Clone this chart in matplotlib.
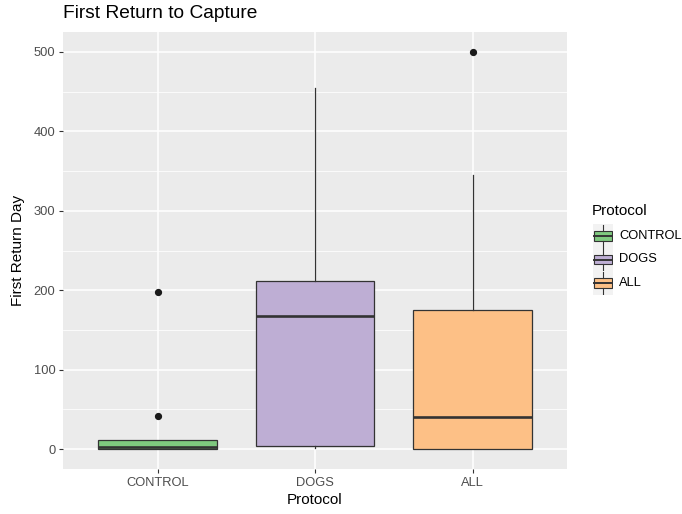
import matplotlib
matplotlib.use("Agg")
import matplotlib.pyplot as plt
from matplotlib.patches import Rectangle
from matplotlib.lines import Line2D

# Box-plot summaries for first return day, by protocol
groups = ["CONTROL", "DOGS", "ALL"]
q1 = [0, 4, 0.5]
medians = [3, 168, 41]
q3 = [11, 211, 175]
whisker_low = [0, 1, 0]
whisker_high = [11, 455, 345]
outliers = [[42, 198], [], [500]]
colors = ["#7FC97F", "#BEAED4", "#FDC086"]

yticks = [0, 100, 200, 300, 400, 500]

plt.rcParams["font.family"] = ["Liberation Sans", "DejaVu Sans"]

fig = plt.figure(figsize=(6.82, 5.14), dpi=100)
fig.patch.set_facecolor("white")
ax = fig.add_axes([63 / 682, 1 - 469 / 514, (567 - 63) / 682, (469 - 32) / 514])
ax.set_facecolor("#EBEBEB")

stats = []
for i, g in enumerate(groups):
    stats.append(dict(label=g, q1=q1[i], med=medians[i], q3=q3[i],
                      whislo=whisker_low[i], whishi=whisker_high[i],
                      fliers=outliers[i]))

positions = list(range(1, len(groups) + 1))
edge = "#333333"
bp = ax.bxp(stats, positions=positions, widths=0.75, patch_artist=True,
            showcaps=False,
            boxprops=dict(edgecolor=edge, linewidth=0.9),
            whiskerprops=dict(color=edge, linewidth=0.9),
            medianprops=dict(color=edge, linewidth=1.9, solid_capstyle="butt"),
            flierprops=dict(marker="o", markerfacecolor="#1a1a1a",
                            markeredgecolor="#1a1a1a", markersize=4.2))
for patch, c in zip(bp["boxes"], colors):
    patch.set_facecolor(c)
for art in bp["boxes"] + bp["medians"] + bp["whiskers"] + bp["fliers"]:
    art.set_zorder(3)

ax.set_xlim(0.4, len(groups) + 0.6)
ax.set_ylim(-25, 525)
ax.set_xticks(positions)
ax.set_xticklabels(groups)
ax.set_yticks(yticks)
ax.set_yticks([50, 150, 250, 350, 450], minor=True)

ax.grid(True, which="major", color="white", linewidth=1.1, zorder=0)
ax.grid(True, which="minor", axis="y", color="white", linewidth=0.55, zorder=0)
ax.set_axisbelow(True)
for s in ax.spines.values():
    s.set_visible(False)

ax.tick_params(axis="both", which="major", length=3, width=0.8, color="#333333",
               labelcolor="#4D4D4D", labelsize=9.3, pad=2.5)
ax.tick_params(axis="both", which="minor", length=0)

ax.set_xlabel("Protocol", fontsize=11, color="black", labelpad=3)
ax.set_ylabel("First Return Day", fontsize=11, color="black", labelpad=6)
fig.text(63 / 682, 1 - 14 / 514, "First Return to Capture", fontsize=13.8,
         color="black", ha="left", va="center")

# Legend with box-plot key glyphs
fig.text(592 / 682, 1 - 211 / 514, "Protocol", fontsize=11, color="black",
         ha="left", va="center")
key_w, key_h = 20, 23.5
key_centers = [236, 259.5, 283]
for g, c, yc in zip(groups, colors, key_centers):
    kax = fig.add_axes([593 / 682, 1 - (yc + key_h / 2) / 514, key_w / 682, key_h / 514])
    kax.set_xlim(0, 1)
    kax.set_ylim(0, 1)
    kax.axis("off")
    kax.add_patch(Rectangle((0, 0), 1, 1, facecolor="#F2F2F2", edgecolor="none"))
    kax.add_line(Line2D([0.5, 0.5], [0.03, 0.29], color=edge, linewidth=0.8))
    kax.add_line(Line2D([0.5, 0.5], [0.71, 0.97], color=edge, linewidth=0.8))
    kax.add_patch(Rectangle((0.05, 0.29), 0.9, 0.42, facecolor=c,
                            edgecolor=edge, linewidth=0.8))
    kax.add_line(Line2D([0.05, 0.95], [0.5, 0.5], color=edge, linewidth=1.4))
    fig.text(619 / 682, 1 - yc / 514, g, fontsize=9.3, color="black",
             ha="left", va="center")

fig.savefig("out.png", dpi=100)
